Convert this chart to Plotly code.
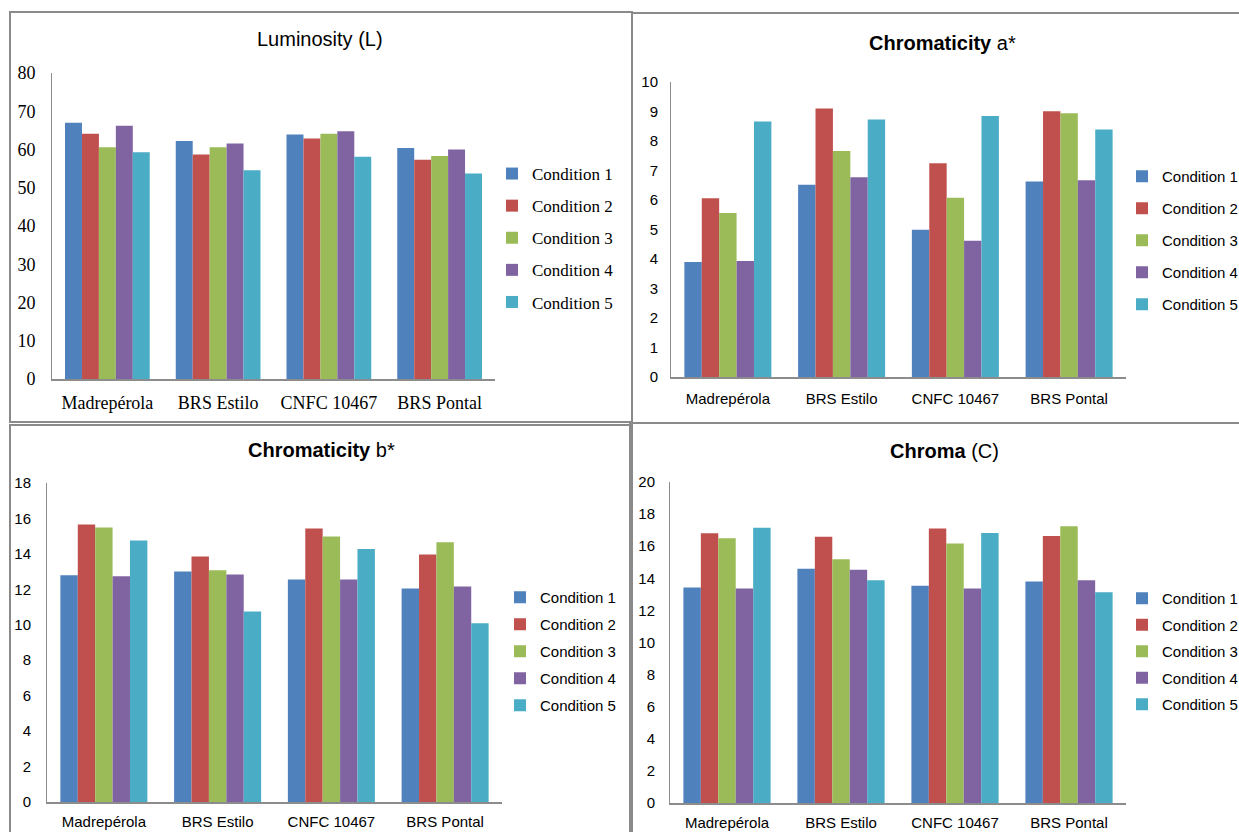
import plotly.graph_objects as go

categories = ["Madrepérola", "BRS Estilo", "CNFC 10467", "BRS Pontal"]
conditions = ["Condition 1", "Condition 2", "Condition 3", "Condition 4", "Condition 5"]
colors = ["#4F81BD", "#C0504D", "#9BBB59", "#8064A2", "#4BACC6"]

# Luminosity (L)
L_c1 = [67.0, 62.2, 63.9, 60.4]
L_c2 = [64.1, 58.7, 62.9, 57.3]
L_c3 = [60.6, 60.6, 64.1, 58.3]
L_c4 = [66.2, 61.6, 64.8, 60.0]
L_c5 = [59.3, 54.6, 58.1, 53.7]

# Chromaticity a*
a_c1 = [3.90, 6.52, 4.99, 6.63]
a_c2 = [6.06, 9.10, 7.25, 9.01]
a_c3 = [5.56, 7.66, 6.08, 8.94]
a_c4 = [3.93, 6.77, 4.62, 6.67]
a_c5 = [8.66, 8.73, 8.85, 8.39]

# Chromaticity b*
b_c1 = [12.80, 13.00, 12.56, 12.05]
b_c2 = [15.66, 13.85, 15.43, 13.97]
b_c3 = [15.49, 13.08, 14.98, 14.66]
b_c4 = [12.74, 12.84, 12.56, 12.16]
b_c5 = [14.75, 10.75, 14.27, 10.09]

# Chroma (C)
C_c1 = [13.42, 14.59, 13.53, 13.80]
C_c2 = [16.80, 16.59, 17.11, 16.63]
C_c3 = [16.50, 15.19, 16.17, 17.25]
C_c4 = [13.36, 14.53, 13.36, 13.88]
C_c5 = [17.15, 13.88, 16.82, 13.13]

W, H = 1239, 832
def px(x):
    return x / W
def py(y):
    return 1 - y / H

SERIF = "Liberation Serif, Times New Roman, serif"
SANS = "Liberation Sans, Arial, sans-serif"

panels = [
    dict(series=[L_c1, L_c2, L_c3, L_c4, L_c5], xd=[52, 495], yd=[73, 379], rng=[0, 80], dtick=10,
         font=SERIF, fsize=18, lfsize=17, legend="legend", lx=492, ly=156, gap=7,
         xs=7, ys=12, title="Luminosity (L)", tx=320, ty=39),
    dict(series=[a_c1, a_c2, a_c3, a_c4, a_c5], xd=[671, 1126], yd=[82, 377], rng=[0, 10], dtick=1,
         font=SANS, fsize=15, lfsize=15, legend="legend2", lx=1122, ly=160, gap=9.5,
         xs=7, ys=9, title="<b>Chromaticity</b> a*", tx=942, ty=43),
    dict(series=[b_c1, b_c2, b_c3, b_c4, b_c5], xd=[47, 502], yd=[483, 802], rng=[0, 18], dtick=2,
         font=SANS, fsize=15, lfsize=15, legend="legend3", lx=500, ly=581, gap=4.5,
         xs=5, ys=12, title="<b>Chromaticity</b> b*", tx=321, ty=450),
    dict(series=[C_c1, C_c2, C_c3, C_c4, C_c5], xd=[670, 1126], yd=[482, 803], rng=[0, 20], dtick=2,
         font=SANS, fsize=15, lfsize=15, legend="legend4", lx=1122, ly=582, gap=4,
         xs=5, ys=11, title="<b>Chroma</b> (C)", tx=944, ty=451),
]

fig = go.Figure()
layout = dict(
    width=W, height=H, margin=dict(l=0, r=0, t=0, b=0, autoexpand=False),
    paper_bgcolor="white", plot_bgcolor="white",
    barmode="group", bargap=0.235, bargroupgap=0,
    showlegend=True,
)
annotations = []
shapes = []

for i, p in enumerate(panels):
    n = "" if i == 0 else str(i + 1)
    for j, (vals, cname) in enumerate(zip(p["series"], conditions)):
        fig.add_trace(go.Bar(
            x=categories, y=vals, name=cname,
            marker=dict(color=colors[j], line=dict(width=0)),
            xaxis="x" + n, yaxis="y" + n,
            legend=p["legend"], legendgroup=f"p{i}c{j}",
        ))
    layout["xaxis" + n] = dict(
        domain=[px(p["xd"][0]), px(p["xd"][1])], anchor="y" + n,
        showline=True, linecolor="#8C8C8C", linewidth=1.5, showgrid=False, zeroline=False,
        ticks="", tickfont=dict(family=p["font"], size=p["fsize"], color="#000"),
        ticklabelstandoff=p["xs"], automargin=False,
    )
    layout["yaxis" + n] = dict(
        domain=[py(p["yd"][1]), py(p["yd"][0])], anchor="x" + n,
        range=p["rng"], dtick=p["dtick"], tick0=0,
        showline=True, linecolor="#8C8C8C", linewidth=1, showgrid=False, zeroline=False,
        ticks="", tickfont=dict(family=p["font"], size=p["fsize"], color="#000"),
        ticklabelstandoff=p["ys"], automargin=False,
    )
    layout[p["legend"]] = dict(
        x=px(p["lx"]), y=py(p["ly"]), xanchor="left", yanchor="top",
        font=dict(family=p["font"], size=p["lfsize"], color="#000"),
        tracegroupgap=p["gap"], bgcolor="rgba(0,0,0,0)", itemwidth=30,
        traceorder="grouped",
    )
    annotations.append(dict(
        x=px(p["tx"]), y=py(p["ty"]), xref="paper", yref="paper",
        text=p["title"], showarrow=False, xanchor="center", yanchor="middle",
        font=dict(family=SANS, size=20, color="#000"),
    ))

# panel borders
borders = [(10, 12, 632, 422), (632, 13, 1250, 423), (10, 425, 632, 845), (630, 423, 1250, 845)]
for (x0, y0, x1, y1) in borders:
    shapes.append(dict(type="rect", xref="paper", yref="paper",
                       x0=px(x0), x1=px(x1), y0=py(y1), y1=py(y0),
                       line=dict(color="#8A8A8A", width=2), fillcolor="rgba(0,0,0,0)"))

layout["annotations"] = annotations
layout["shapes"] = shapes
fig.update_layout(**layout)
fig.write_html(
    "out.html",
    config={"displayModeBar": False},
    post_script="document.body.style.margin='0px';document.body.style.padding='0px';"
                "document.body.style.overflow='hidden';"
                "document.documentElement.style.overflow='hidden';",
)
